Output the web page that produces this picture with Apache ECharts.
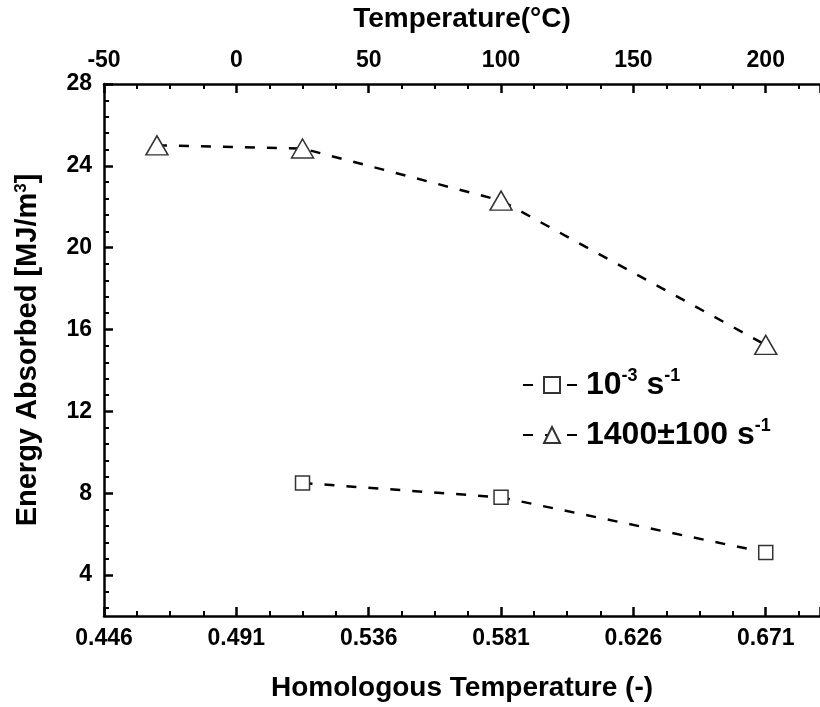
<!DOCTYPE html>
<html>
<head>
<meta charset="utf-8">
<script src="https://cdn.jsdelivr.net/npm/echarts@6/dist/echarts.min.js"></script>
<style>
html,body{margin:0;padding:0;background:#fff;}
#chart{width:820px;height:707px;}
</style>
</head>
<body>
<div id="chart"></div>
<script>
// ---- data ----
const tempLowRate = [25, 100, 200];                 // Temperature (°C)
const energyLowRate = [8.5, 7.8, 5.1];              // MJ/m^3, 10^-3 s^-1
const tempHighRate = [-30, 25, 100, 200];           // Temperature (°C)
const energyHighRate = [25.0, 24.85, 22.3, 15.25];  // MJ/m^3, 1400±100 s^-1

// ---- tick labels ----
const topTickLabels = [-50, 0, 50, 100, 150, 200];
const homologousLabels = ['0.446', '0.491', '0.536', '0.581', '0.626', '0.671'];
const yTickValues = [4, 8, 12, 16, 20, 24, 28];

const FONT = "'Liberation Sans', Arial, sans-serif";
const tMin = -50, tMax = 220.5, tStep = 50;
const yMin = 2, yMax = 28;

const yMinorTicks = [];
for (let v = 27.2; v > yMin; v = Math.round((v - 0.8) * 10) / 10) {
  if (yTickValues.indexOf(v) < 0) yMinorTicks.push(v);
}

function pairs(xs, ys) { return xs.map((x, i) => [x, ys[i]]); }

const axisLine = { show: true, onZero: false, lineStyle: { color: '#000', width: 2.5 } };
const majorTick = { show: true, inside: true, length: 9, lineStyle: { color: '#000', width: 2.5 } };
const minorTick = { show: true, splitNumber: 4, length: 5, lineStyle: { color: '#000', width: 2 } };
const labelStyle = { color: '#000', fontSize: 23, fontWeight: 'bold', fontFamily: FONT };
const nameStyle = { color: '#000', fontSize: 28, fontWeight: 'bold', fontFamily: FONT };

const chart = echarts.init(document.getElementById('chart'), null, { renderer: 'canvas' });

const option = {
  animation: false,
  backgroundColor: '#fff',
  grid: { left: 104, right: 0, top: 83, bottom: 90, containLabel: false },
  xAxis: [
    {
      type: 'value', position: 'bottom', min: tMin, max: tMax, interval: tStep,
      axisLine: axisLine, axisTick: majorTick, minorTick: minorTick,
      splitLine: { show: false }, minorSplitLine: { show: false },
      axisLabel: Object.assign({}, labelStyle, {
        margin: 11, showMaxLabel: false,
        formatter: function (v) {
          const k = (v - tMin) / tStep;
          return Number.isInteger(k) && homologousLabels[k] ? homologousLabels[k] : '';
        }
      }),
      name: 'Homologous Temperature (-)', nameLocation: 'middle', nameGap: 58,
      nameTextStyle: nameStyle
    },
    {
      type: 'value', position: 'top', min: tMin, max: tMax, interval: tStep,
      axisLine: axisLine, axisTick: majorTick, minorTick: minorTick,
      splitLine: { show: false }, minorSplitLine: { show: false },
      axisLabel: Object.assign({}, labelStyle, {
        margin: 12, showMaxLabel: false,
        formatter: function (v) {
          return topTickLabels.indexOf(v) >= 0 ? String(v) : '';
        }
      }),
      name: 'Temperature(\u00B0C)', nameLocation: 'middle', nameGap: 51,
      nameTextStyle: nameStyle
    }
  ],
  yAxis: [
    {
      type: 'value', position: 'left', min: yMin, max: yMax,
      axisLine: axisLine,
      axisTick: Object.assign({}, majorTick, { customValues: yTickValues }),
      splitLine: { show: false },
      axisLabel: Object.assign({}, labelStyle, { margin: 12, customValues: yTickValues }),
      name: 'Energy Absorbed [MJ/m{sup|3}]', nameLocation: 'middle', nameGap: 62, nameRotate: 90,
      nameTextStyle: Object.assign({}, nameStyle, {
        fontSize: 29,
        rich: {
          sup: { fontSize: 17, fontWeight: 'bold', fontFamily: FONT, color: '#000', verticalAlign: 'top', lineHeight: 17 }
        }
      })
    },
    {
      type: 'value', position: 'left', min: yMin, max: yMax,
      axisLine: { show: false, onZero: false },
      axisTick: { show: true, inside: true, length: 5, customValues: yMinorTicks, lineStyle: { color: '#000', width: 2 } },
      axisLabel: { show: false },
      splitLine: { show: false }
    }
  ],
  legend: {
    orient: 'vertical', left: 517, top: 362, itemGap: 16,
    itemWidth: 58, itemHeight: 20,
    data: ['low', 'high'],
    formatter: function (name) {
      return name === 'low' ? '{b|10}{s|-3}{b| s}{s|-1}' : '{b|1400\u00B1100 s}{s|-1}';
    },
    textStyle: {
      color: '#000', fontFamily: FONT, fontWeight: 'bold', fontSize: 32,
      rich: {
        b: { fontSize: 32, fontWeight: 'bold', fontFamily: FONT, color: '#000', lineHeight: 36 },
        s: { fontSize: 18, fontWeight: 'bold', fontFamily: FONT, color: '#000', verticalAlign: 'top', lineHeight: 18 }
      }
    }
  },
  series: [
    {
      name: 'low', type: 'line', xAxisIndex: 1, yAxisIndex: 0,
      data: pairs(tempLowRate, energyLowRate),
      symbol: 'rect', symbolSize: 14,
      itemStyle: { color: '#fff', borderColor: '#333', borderWidth: 1.5 },
      lineStyle: { color: '#000', width: 2.5, type: [10, 12] },
      z: 3
    },
    {
      name: 'high', type: 'line', xAxisIndex: 1, yAxisIndex: 0,
      data: pairs(tempHighRate, energyHighRate),
      symbol: 'triangle', symbolSize: [22, 19],
      itemStyle: { color: '#fff', borderColor: '#333', borderWidth: 1.5 },
      lineStyle: { color: '#000', width: 2.5, type: [10, 12] },
      z: 3
    }
  ]
};
chart.setOption(option);
</script>
</body>
</html>
